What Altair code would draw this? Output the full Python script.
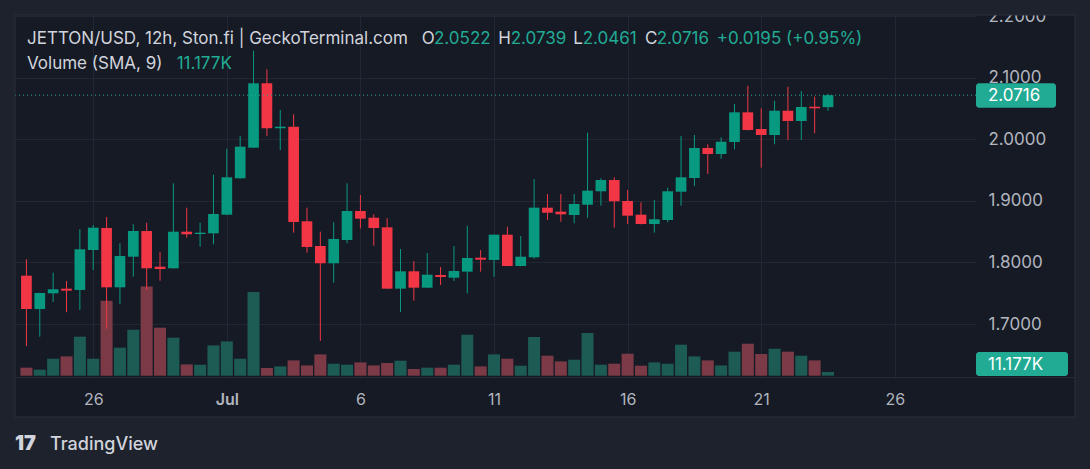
import altair as alt
import pandas as pd

# ---------------- data ----------------
opens = [1.7786,1.7245,1.7500,1.7575,1.7554,1.8203,1.8560,1.7597,1.8094,1.8511,
         1.7932,1.7906,1.8500,1.8463,1.8474,1.8776,1.9367,1.9864,2.0909,2.0179,
         2.0205,1.8669,1.8268,1.7987,1.8365,1.8836,1.8727,1.8571,1.7575,1.7857,
         1.7591,1.7797,1.7753,1.7851,1.8078,1.8041,1.8451,1.7943,1.8084,1.8890,
         1.8825,1.8771,1.8938,1.9156,1.9339,1.8998,1.8776,1.8625,1.8690,1.9149,
         1.9372,1.9859,1.9761,1.9956,2.0438,2.0167,2.0070,2.0464,2.0297,2.0529,2.0522]
highs = [1.8052,1.7510,1.7834,1.7700,1.8539,1.8609,1.8739,1.8312,1.8620,1.8646,
         1.8170,1.9286,1.8890,1.8646,1.9425,1.9847,2.0054,2.1438,2.1136,2.0476,
         2.0406,1.8890,1.8500,1.8653,1.9286,1.9096,1.8782,1.8718,1.8219,1.8024,
         1.8154,1.7927,1.8268,1.8597,1.8203,1.8455,1.8581,1.8430,1.9356,1.9112,
         1.9112,1.9112,2.0107,1.9367,1.9383,1.9177,1.8977,1.9015,1.9214,2.0054,
         2.0070,1.9919,2.0032,2.0573,2.0870,2.0503,2.0627,2.0854,2.0784,2.0692,2.0739]
lows = [1.6644,1.6795,1.7359,1.7192,1.7229,1.7878,1.6925,1.7326,1.7769,1.7554,
        1.7705,1.7900,1.8403,1.8256,1.8295,1.8770,1.9360,1.9860,2.0054,1.9826,
        1.8484,1.8159,1.6726,1.7672,1.8312,1.8555,1.8273,1.7570,1.7196,1.7380,
        1.7585,1.7635,1.7700,1.7500,1.7851,1.7769,1.7940,1.7940,1.8062,1.8690,
        1.8662,1.8636,1.8727,1.8922,1.8565,1.8625,1.8620,1.8484,1.8653,1.8922,
        1.9242,1.9437,1.9685,1.9838,2.0145,1.9539,1.9919,1.9989,1.9989,2.0097,2.0461]
closes = [1.7245,1.7505,1.7565,1.7542,1.8214,1.8565,1.7597,1.8106,1.8511,1.7906,
          1.7894,1.8500,1.8458,1.8484,1.8787,1.9383,1.9880,2.0909,2.0179,2.0205,
          1.8657,1.8252,1.7987,1.8381,1.8836,1.8711,1.8560,1.7575,1.7857,1.7591,
          1.7802,1.7765,1.7862,1.8073,1.8045,1.8451,1.7943,1.8094,1.8890,1.8808,
          1.8782,1.8950,1.9166,1.9339,1.8994,1.8760,1.8625,1.8701,1.9156,1.9383,
          1.9859,1.9761,1.9961,2.0438,2.0151,2.0070,2.0464,2.0297,2.0524,2.0503,2.0716]
volumes_k = [24.2,18.1,51.3,58.3,117.8,51.3,226.5,84.6,138.9,269.7,
             145.0,114.8,34.1,33.2,91.5,103.6,51.3,252.8,23.3,28.1,
             46.2,31.1,64.3,36.2,33.2,40.2,31.1,38.4,45.3,20.2,
             24.2,24.2,33.2,123.8,28.1,64.3,51.3,30.2,116.9,60.4,
             43.2,48.3,129.0,33.2,36.2,66.4,30.2,40.2,36.2,93.6,
             58.3,46.2,31.1,72.5,96.6,65.5,81.5,72.5,60.4,46.2,11.177]
start_time = "2024-06-23 12:00"
tick_dates = ["2024-06-26", "2024-07-01", "2024-07-06", "2024-07-11",
              "2024-07-16", "2024-07-21", "2024-07-26"]
price_ticks = [1.7, 1.8, 1.9, 2.0, 2.1, 2.2]
last_close = 2.0716

# ---------------- styling ----------------
W, H = 961, 362
OUTER = "#1e222d"
PANEL = "#161a25"
GRID = "#232733"
BORDER = "#2a2e39"
TXT = "#d1d4dc"
AXT = "#b2b5be"
UP = "#089981"
DOWN = "#f23645"
UPV = "#1d5c55"
DOWNV = "#7c3a46"
LBL = "#22ab94"
FONT = "Inter"

times = pd.date_range(start_time, periods=len(opens), freq="12h", tz="UTC")
df = pd.DataFrame({
    "t": times.strftime("%Y-%m-%dT%H:%M:%SZ"),
    "open": opens, "high": highs, "low": lows, "close": closes, "vol": volumes_k,
})
df["dir"] = ["up" if c >= o else "down" for o, c in zip(opens, closes)]

HALF_DAY = 12 * 3600 * 1000
t0 = int(times[0].value // 10**6)
step_px = 13.5
first_px = 6.5
x_dom = [t0 - first_px / step_px * HALF_DAY, t0 + (W - first_px) / step_px * HALF_DAY]
tick_ms = [int(pd.Timestamp(d, tz="UTC").value // 10**6) for d in tick_dates]

x_enc = alt.X(
    "t:T",
    scale=alt.Scale(type="utc", domain=x_dom, nice=False),
    axis=alt.Axis(
        values=tick_ms, title=None, domain=False, ticks=False, grid=True,
        gridColor=GRID, labelColor=AXT, labelFont=FONT, labelFontSize=16,
        labelPadding=14,
        labelExpr="utcdate(datum.value) == 1 ? 'Jul' : utcFormat(datum.value, '%-d')",
        labelFontWeight=alt.condition("utcdate(datum.value) == 1", alt.value(600), alt.value(400)),
    ),
)

price_scale = alt.Scale(domain=[1.6141, 2.2018], nice=False, zero=False)
vol_scale = alt.Scale(domain=[-3.93, 1089.3], nice=False, zero=False)
cscale = alt.Scale(domain=["up", "down"], range=[UP, DOWN])
vscale = alt.Scale(domain=["up", "down"], range=[UPV, DOWNV])

base = alt.Chart(df)

volume = base.mark_bar(size=12).encode(
    x=x_enc,
    y=alt.Y("vol:Q", scale=vol_scale, axis=None),
    y2=alt.datum(0),
    color=alt.Color("dir:N", scale=vscale, legend=None),
)

wicks = base.mark_rule(strokeWidth=1).encode(
    x=x_enc,
    y=alt.Y("low:Q", scale=price_scale, axis=alt.Axis(
        orient="right", values=price_ticks, format=".4f", title=None,
        domain=False, ticks=False, grid=True, gridColor=GRID,
        labelColor=AXT, labelFont=FONT, labelFontSize=17,
        labelAlign="left", labelPadding=12)),
    y2="high:Q",
    color=alt.Color("dir:N", scale=cscale, legend=None),
)

bodies = base.mark_bar(size=10.7).encode(
    x=x_enc,
    y=alt.Y("open:Q", scale=price_scale, axis=None),
    y2="close:Q",
    color=alt.Color("dir:N", scale=cscale, legend=None),
)

one = alt.Data(values=[{"a": 1}])

price_line = alt.Chart(one).mark_rule(color=LBL, strokeDash=[1, 3], strokeWidth=1).encode(
    y=alt.Y(datum=last_close, scale=price_scale, axis=None)
)


def rect(x, x2, y, y2, fill, stroke=None, r=0):
    kw = dict(fill=fill, cornerRadius=r)
    if stroke:
        kw = dict(fill=fill, stroke=stroke, strokeWidth=1, fillOpacity=0 if fill == "none" else 1)
        if fill == "none":
            kw["fill"] = "#000000"
    return alt.Chart(one).mark_rect(**kw).encode(
        x=alt.value(x), x2=alt.value(x2), y=alt.value(y), y2=alt.value(y2))


def txt(s, x, y, color=TXT, size=17, weight=400, baseline="alphabetic"):
    return alt.Chart(one).mark_text(
        text=s, align="left", baseline=baseline, font=FONT, fontSize=size,
        fontWeight=weight, color=color,
    ).encode(x=alt.value(x), y=alt.value(y))


frame = [
    rect(-15, 1075, -15, 0, OUTER),
    rect(-15, 0, -15, 454, OUTER),
    rect(1060, 1075, -15, 454, OUTER),
    rect(-15, 1075, 402, 454, OUTER),
    rect(0, 1060, 0, 402, "none", stroke=BORDER),
    alt.Chart(one).mark_rule(color=BORDER, strokeWidth=1).encode(
        x=alt.value(0), x2=alt.value(1060), y=alt.value(362.7)),
]

labels = [
    rect(961, 1041, 68.3, 92.7, LBL, r=3),
    txt("2.0716", 973, 80.8, color="#ffffff", baseline="middle"),
    rect(961, 1053, 337, 361, LBL, r=3),
    txt("11.177K", 973, 349.5, color="#ffffff", baseline="middle"),
]

header = [
    txt("JETTON/USD, 12h, Ston.fi | GeckoTerminal.com", 12, 29),
    txt("O", 406.7, 29), txt("2.0522", 419, 29, color=LBL),
    txt("H", 483.3, 29), txt("2.0739", 495.7, 29, color=LBL),
    txt("L", 558.3, 29), txt("2.0461", 567.7, 29, color=LBL),
    txt("C", 630, 29), txt("2.0716", 641.7, 29, color=LBL),
    txt("+0.0195 (+0.95%)", 701.7, 29, color=LBL),
    txt("Volume (SMA, 9)", 12, 54),
    txt("11.177K", 161.7, 54, color=LBL),
    txt("17", 0, 435, size=20, weight=900),
    txt("TradingView", 35, 435, size=18, weight=500),
]

chart = alt.layer(
    volume, wicks, bodies, price_line, *frame, *labels, *header
).resolve_scale(
    y="independent", color="independent"
).properties(
    width=W, height=H, background=PANEL,
    padding={"left": 15, "top": 15, "right": 1090 - 15 - W, "bottom": 469 - 15 - H},
    autosize=alt.AutoSizeParams(type="none"),
).configure_view(
    stroke=None, fill=PANEL
)

chart.save("out.html", embed_options={"renderer": "svg", "actions": False})
